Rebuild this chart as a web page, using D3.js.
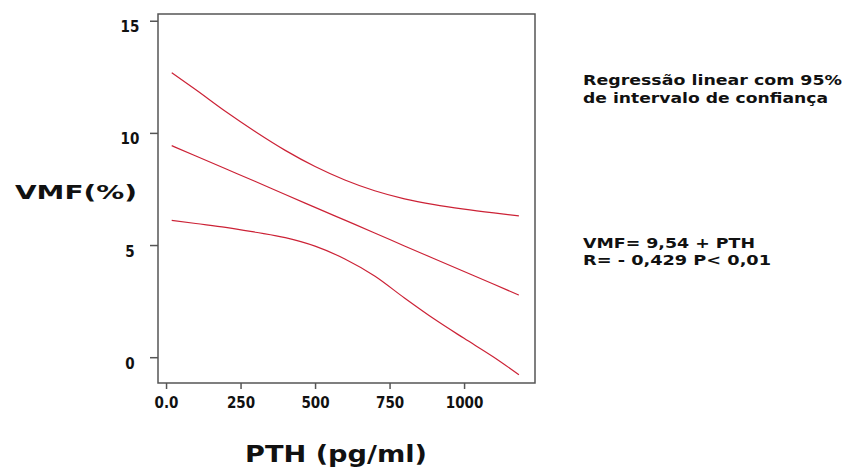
<!DOCTYPE html>
<html>
<head>
<meta charset="utf-8">
<script src="https://cdn.jsdelivr.net/npm/d3@7"></script>
<style>
  html, body { margin: 0; padding: 0; background: #fff; }
  svg { display: block; }
</style>
</head>
<body>
<svg id="chart" width="851" height="472"></svg>
<script>
// ---- data ----
const pth      = [19, 100, 200, 300, 400, 500, 600, 700, 800, 900, 1000, 1100, 1184];
const vmfFit   = [9.43, 8.97, 8.40, 7.83, 7.25, 6.68, 6.11, 5.54, 4.96, 4.39, 3.82, 3.25, 2.77];
const vmfUpper = [12.68, 11.92, 10.95, 10.05, 9.22, 8.50, 7.90, 7.42, 7.06, 6.80, 6.60, 6.43, 6.30];
const vmfLower = [6.10, 5.96, 5.79, 5.57, 5.33, 4.95, 4.38, 3.62, 2.64, 1.70, 0.84, 0.00, -0.78];

const xTicks = [0, 250, 500, 750, 1000];
const xTickLabels = ["0.0", "250", "500", "750", "1000"];
const yTicks = [0, 5, 10, 15];
const yTickLabels = ["0", "5", "10", "15"];

const xTitle = "PTH (pg/ml)";
const yTitle = "VMF(%)";
const noteLines1 = ["Regressão linear com  95%", "de intervalo de confiança"];
const noteLines2 = ["VMF= 9,54  + PTH", "R= - 0,429 P< 0,01"];

// ---- layout ----
const svg = d3.select("#chart");
const frame = { left: 158, right: 535, top: 14, bottom: 383 };

const x = d3.scaleLinear().domain([-27, 1238]).range([frame.left, frame.right]);
const y = d3.scaleLinear().domain([-1.15, 15.3]).range([frame.bottom, frame.top]);

const axisColor = "#555";
const lineColor = "#cc2236";

// frame box
svg.append("rect")
  .attr("x", frame.left).attr("y", frame.top)
  .attr("width", frame.right - frame.left)
  .attr("height", frame.bottom - frame.top)
  .attr("fill", "none").attr("stroke", axisColor).attr("stroke-width", 1.5);

// y axis
const yAxis = svg.append("g")
  .attr("transform", `translate(${frame.left},0)`)
  .call(d3.axisLeft(y).tickValues(yTicks).tickSize(8)
    .tickFormat((d, i) => yTickLabels[i]));
yAxis.select(".domain").remove();
yAxis.selectAll(".tick line").attr("stroke", axisColor).attr("stroke-width", 1.5);
yAxis.selectAll(".tick text")
  .attr("x", -28).attr("dy", 0).attr("y", 11)
  .attr("text-anchor", "middle")
  .attr("fill", "#111")
  .style("font-family", "'DejaVu Sans Condensed', 'DejaVu Sans', sans-serif")
  .style("font-weight", "bold").style("font-size", "15px");

// x axis
const xAxis = svg.append("g")
  .attr("transform", `translate(0,${frame.bottom})`)
  .call(d3.axisBottom(x).tickValues(xTicks).tickSize(6)
    .tickFormat((d, i) => xTickLabels[i]));
xAxis.select(".domain").remove();
xAxis.selectAll(".tick line").attr("stroke", axisColor).attr("stroke-width", 1.5);
xAxis.selectAll(".tick text")
  .attr("y", 25).attr("dy", 0)
  .attr("fill", "#111")
  .style("font-family", "'DejaVu Sans Condensed', 'DejaVu Sans', sans-serif")
  .style("font-weight", "bold").style("font-size", "15px");

// lines
const line = d3.line().curve(d3.curveMonotoneX).x(d => x(d[0])).y(d => y(d[1]));
[vmfUpper, vmfFit, vmfLower].forEach(series => {
  svg.append("path")
    .datum(pth.map((p, i) => [p, series[i]]))
    .attr("d", line)
    .attr("fill", "none")
    .attr("stroke", lineColor)
    .attr("stroke-width", 1.2);
});

// axis titles
svg.append("text")
  .attr("x", 15).attr("y", 199)
  .attr("textLength", 122).attr("lengthAdjust", "spacingAndGlyphs")
  .style("font-family", "'DejaVu Sans', sans-serif")
  .style("font-weight", "bold").style("font-size", "20px")
  .attr("fill", "#111")
  .text(yTitle);

svg.append("text")
  .attr("x", 245).attr("y", 462)
  .attr("textLength", 182).attr("lengthAdjust", "spacingAndGlyphs")
  .style("font-family", "'DejaVu Sans', sans-serif")
  .style("font-weight", "bold").style("font-size", "23px")
  .attr("fill", "#111")
  .text(xTitle);

// notes
const noteStyle = sel => sel
  .style("font-family", "'DejaVu Sans', sans-serif")
  .style("font-size", "13.5px")
  .style("font-weight", "bold")
  .attr("fill", "#111")
  .attr("lengthAdjust", "spacingAndGlyphs");

const n1w = [259, 245];
noteLines1.forEach((t, i) => {
  svg.append("text").call(noteStyle)
    .attr("x", 583).attr("y", 85 + i * 18)
    .attr("textLength", n1w[i])
    .text(t);
});
const n2w = [172, 188];
noteLines2.forEach((t, i) => {
  svg.append("text").call(noteStyle)
    .attr("x", 583).attr("y", 248 + i * 17)
    .attr("textLength", n2w[i])
    .text(t);
});
</script>
</body>
</html>
